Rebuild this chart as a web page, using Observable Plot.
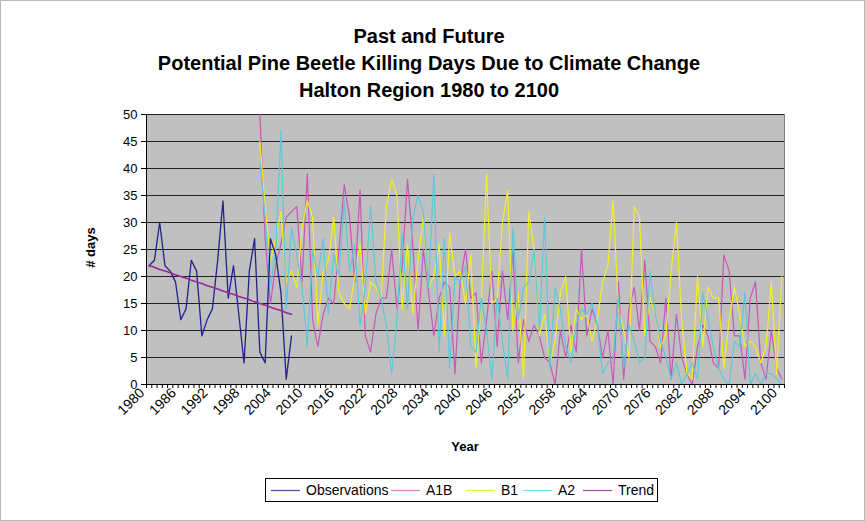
<!DOCTYPE html>
<html><head><meta charset="utf-8">
<script src="https://cdn.jsdelivr.net/npm/d3@7"></script>
<script src="https://cdn.jsdelivr.net/npm/@observablehq/plot@0.6"></script>
<style>
body{margin:0;background:#fff;font-family:"Liberation Sans",Arial,sans-serif;}
#wrap{position:relative;width:865px;height:521px;overflow:hidden;background:#fff;}
#border{position:absolute;left:0;top:0;width:863px;height:519px;border:1px solid #b8b8b8;pointer-events:none;}
.title{position:absolute;left:0;width:858px;text-align:center;font-weight:bold;font-size:20px;line-height:24px;color:#000;}
#chart{position:absolute;left:0;top:0;}
#ylab{position:absolute;left:60px;top:240px;width:60px;text-align:center;font-weight:bold;font-size:13px;transform:rotate(-90deg);}
#xlab{position:absolute;left:415px;top:439px;width:100px;text-align:center;font-weight:bold;font-size:13px;}
#legend{position:absolute;left:0;top:0;}
</style></head>
<body>
<div id="wrap">
<div id="chart"></div>
<div class="title" style="top:24px">Past and Future</div>
<div class="title" style="top:51px">Potential Pine Beetle Killing Days Due to Climate Change</div>
<div class="title" style="top:78px">Halton Region 1980 to 2100</div>
<div id="ylab"># days</div>
<div id="xlab">Year</div>
<svg id="legend" width="865" height="521"></svg>
<div id="border"></div>
</div>
<script>
// Observations 1980-2007
const obsStart = 1980;
const observations = [22, 23, 30, 22, 21, 19, 12, 14, 23, 21, 9, 12, 14, 23, 34, 16, 22, 13, 4, 21, 27, 6, 4, 27, 24, 17, 1, 9];
// Trend line 1980-2007
const trend = [22.0, 21.7, 21.3, 21.0, 20.7, 20.3, 20.0, 19.7, 19.3, 19.0, 18.7, 18.3, 18.0, 17.7, 17.3, 17.0, 16.7, 16.3, 16.0, 15.7, 15.3, 15.0, 14.7, 14.3, 14.0, 13.7, 13.3, 13.0];
// Scenarios 2001-2100
const scenStart = 2001;
const a1b = [50, 27, 15, 22, 26, 31, 32, 33, 19, 39,
             12, 7, 13, 16, 15, 25, 37, 31, 19, 36,
             9, 6, 13, 16, 16, 25, 14, 22, 38, 26,
             10, 25, 17, 9, 16, 19, 18, 2, 19, 25,
             16, 17, 4, 12, 21, 7, 21, 12, 25, 4,
             12, 8, 11, 9, 5, 4, 0, 10, 5, 11,
             6, 25, 9, 14, 11, 5, 10, 0, 19, 1,
             14, 18, 10, 23, 8, 7, 4, 16, 1, 13,
             5, 2, 0, 7, 11, 9, 4, 3, 24, 21,
             9, 9, 1, 16, 19, 4, 1, 10, 3, 1];
const b1 = [45, 33, 23, 27, 32, 19, 21, 18, 29, 34,
            31, 11, 21, 23, 31, 17, 15, 14, 20, 26,
            13, 19, 18, 16, 33, 38, 35, 14, 26, 13,
            23, 31, 18, 20, 26, 9, 28, 20, 21, 15,
            24, 3, 15, 39, 15, 16, 30, 36, 10, 17,
            1, 32, 25, 9, 13, 4, 8, 17, 20, 6,
            14, 12, 13, 8, 12, 19, 22, 34, 14, 10,
            5, 33, 31, 9, 16, 13, 7, 9, 21, 30,
            12, 2, 1, 20, 7, 18, 16, 16, 3, 12,
            18, 13, 7, 8, 7, 4, 7, 19, 2, 20];
const a2 = [41, 31, 18, 25, 47, 14, 29, 24, 18, 7,
            25, 20, 27, 13, 24, 20, 34, 21, 26, 11,
            18, 33, 19, 16, 11, 2, 12, 28, 14, 31,
            35, 32, 18, 39, 6, 27, 3, 20, 19, 22,
            7, 6, 16, 10, 1, 16, 8, 1, 29, 12,
            18, 19, 25, 10, 31, 3, 18, 14, 7, 4,
            11, 14, 13, 15, 11, 2, 4, 5, 16, 3,
            11, 8, 4, 5, 21, 13, 8, 5, 1, 4,
            0, 2, 4, 1, 17, 12, 7, 3, 1, 0,
            8, 7, 17, 0, 2, 0, 2, 2, 1, 0];
const tickYears = [1980, 1986, 1992, 1998, 2004, 2010, 2016, 2022, 2028, 2034, 2040, 2046, 2052, 2058, 2064, 2070, 2076, 2082, 2088, 2094, 2100];
const yTicks = [0, 5, 10, 15, 20, 25, 30, 35, 40, 45, 50];
const firstYear = 1980, lastYear = 2100;
const seriesNames = ["Observations", "A1B", "B1", "A2", "Trend"];
const seriesColors = ["#22228a", "#c658b8", "#f2ee22", "#5cc8d8", "#99289a"];
const legendColors = ["#4a4aa0", "#e07ccc", "#f2ee30", "#78dcea", "#a848aa"];

const toRows = (arr, start) => arr.map((v, i) => ({year: start + i, value: v}));
const boundaries = d3.range(firstYear - 0.5, lastYear + 1, 1);

const chart = Plot.plot({
  width: 865, height: 521,
  marginLeft: 146, marginRight: 81, marginTop: 114, marginBottom: 137,
  style: {fontFamily: "'Liberation Sans', Arial, sans-serif", fontSize: "12px", color: "#000", background: "transparent", overflow: "visible"},
  x: {type: "linear", domain: [firstYear - 0.5, lastYear + 0.5]},
  y: {domain: [0, 50]},
  marks: [
    Plot.frame({fill: "#c0c0c0", stroke: "#808080"}),
    Plot.ruleY(yTicks.filter(d => d > 0), {stroke: "#202020", strokeWidth: 1}),
    Plot.line(toRows(a1b, scenStart), {x: "year", y: "value", stroke: seriesColors[1], strokeWidth: 1.2}),
    Plot.line(toRows(b1, scenStart), {x: "year", y: "value", stroke: seriesColors[2], strokeWidth: 1.2}),
    Plot.line(toRows(a2, scenStart), {x: "year", y: "value", stroke: seriesColors[3], strokeWidth: 1.2}),
    Plot.line(toRows(observations, obsStart), {x: "year", y: "value", stroke: seriesColors[0], strokeWidth: 1.3}),
    Plot.line(toRows(trend, obsStart), {x: "year", y: "value", stroke: seriesColors[4], strokeWidth: 1.6}),
    Plot.ruleX([firstYear - 0.5], {stroke: "#000"}),
    Plot.ruleY([0], {stroke: "#000"}),
    Plot.axisY({ticks: yTicks, tickSize: 5, tickPadding: 4, label: null, fontSize: 13}),
    Plot.axisX({ticks: boundaries, tickSize: 4, tickFormat: () => "", label: null}),
    Plot.axisX({ticks: tickYears, tickSize: 0, tickPadding: 6, tickRotate: -45, dx: -7, tickFormat: d => String(d), label: null, fontSize: 14})
  ]
});
document.getElementById("chart").appendChild(chart);

// Legend
const leg = d3.select("#legend");
leg.append("rect").attr("x", 265.5).attr("y", 478.5).attr("width", 392).attr("height", 23)
  .attr("fill", "#fff").attr("stroke", "#000");
const legX = [271, 391, 466, 523, 583];
seriesNames.forEach((name, i) => {
  leg.append("line").attr("x1", legX[i]).attr("x2", legX[i] + 29).attr("y1", 490.5).attr("y2", 490.5)
    .attr("stroke", legendColors[i]).attr("stroke-width", 1.2);
  leg.append("text").attr("x", legX[i] + 35).attr("y", 495).text(name)
    .attr("font-family", "'Liberation Sans', Arial, sans-serif").attr("font-size", 14).attr("fill", "#000");
});
</script>
</body></html>
